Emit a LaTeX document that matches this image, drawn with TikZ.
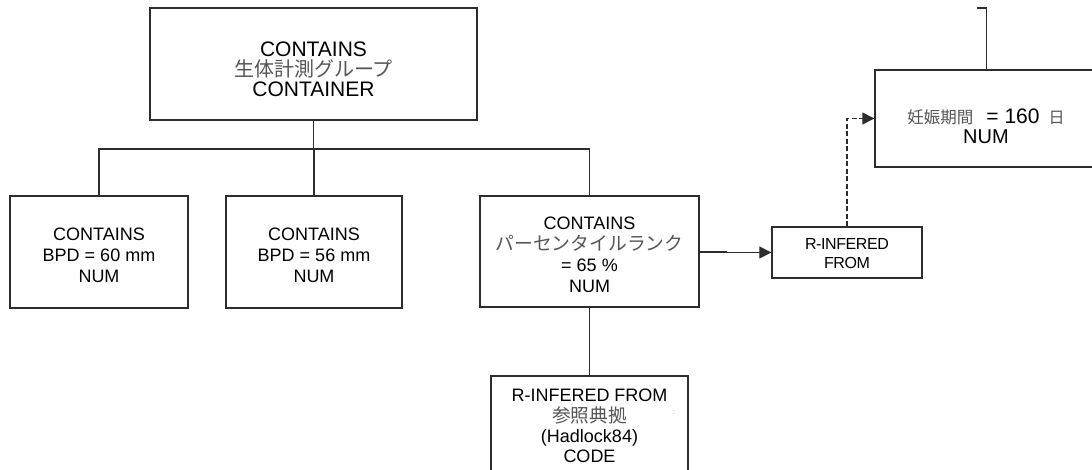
\documentclass[tikz,border=0pt]{standalone}
\usepackage{fontspec}
\setmainfont{Liberation Sans}
\newfontfamily\jp{Noto Sans CJK JP}
\usetikzlibrary{arrows.meta}
\lineskiplimit=-30pt
\definecolor{ln}{RGB}{45,45,45}
\definecolor{jpc}{RGB}{85,85,85}
\newcommand{\J}[2]{{\jp\fontsize{#1}{#1}\selectfont\color{jpc}#2}}
\begin{document}
\begin{tikzpicture}[x=1pt,y=-1pt,
  boxn/.style={draw=ln, line width=1.4pt, rectangle, inner sep=0pt, align=center, text=black},
  txt/.style={align=center, inner sep=0pt, text=black, font=\fontsize{18}{21}\selectfont},
  conn/.style={draw=ln, line width=1.3pt},
  arr/.style={conn, -{Triangle[length=12pt,width=12pt]}}]
\clip (0,0) rectangle (1092,470);
\useasboundingbox (0,0) rectangle (1092,470);
\fill[white] (0,0) rectangle (1092,470);

% boxes
\node[boxn, minimum width=327pt, minimum height=112pt] (top) at (313.5,64) {};
\node[txt, font=\fontsize{21}{20}\selectfont] (toptxt) at (313.5,69) {CONTAINS\\\J{20}{生体計測グループ}\\CONTAINER};

\node[boxn, minimum width=178pt, minimum height=112pt] (b1) at (99,252) {};
\node[txt] (b1txt) at (99,255) {CONTAINS\\BPD = 60 mm\\NUM};

\node[boxn, minimum width=176pt, minimum height=112pt] (b2) at (314,252) {};
\node[txt] (b2txt) at (314,255) {CONTAINS\\BPD = 56 mm\\NUM};

\node[boxn, minimum width=219pt, minimum height=111pt] (b3) at (589.5,251.5) {};
\node[txt] (b3txt) at (589.5,255) {CONTAINS\\\J{18.8}{パーセンタイルランク}\\= 65 \%\\NUM};

\node[boxn, minimum width=150pt, minimum height=51pt] (rif) at (847,252.5) {};
\node[txt, font=\fontsize{16}{19}\selectfont] (riftxt) at (847,254) {\addfontfeatures{LetterSpace=-2.5}R-INFERED\\\addfontfeatures{LetterSpace=-2.5}FROM};

\node[boxn, minimum width=240pt, minimum height=97pt] (rbox) at (995,118.5) {};
\node[txt, font=\fontsize{20}{20}\selectfont] (rtxt) at (986,126) {\J{16.5}{妊娠期間}\hspace{13pt}{\fontsize{21}{21}\selectfont= 160}\hspace{9pt}\J{16}{日}\\NUM};

\node[boxn, minimum width=197pt, minimum height=110pt] (bot) at (589.5,431) {};
\node[txt, font=\fontsize{18}{20.3}\selectfont] (bottxt) at (589.5,426) {R-INFERED FROM\\\J{18.7}{参照典拠}\\(Hadlock84)\\CODE};

\node[inner sep=0pt, text=gray, font=\fontsize{7}{7}\selectfont] (mk) at (674,413) {:};

% tree connectors
\coordinate (bus) at (0,149);
\draw[conn] (top.south) -- (top.south |- bus);
\draw[conn] (b1.north) |- (b3.north |- bus) -- (b3.north);
\draw[conn] (b2.north) -- (b2.north |- bus);
\draw[conn] (b3.south) -- (bot.north);

% arrows
\coordinate (jog) at (726,252);
\draw[arr] (b3.east |- jog) -- (jog) |- (rif.west);
\draw[arr, dash pattern=on 5pt off 2.5pt] (rif.north) |- (rbox.west);

\coordinate (tr) at (977,8);
\draw[conn] ([xshift=112pt]rbox.north west) |- (tr);
\end{tikzpicture}
\end{document}
